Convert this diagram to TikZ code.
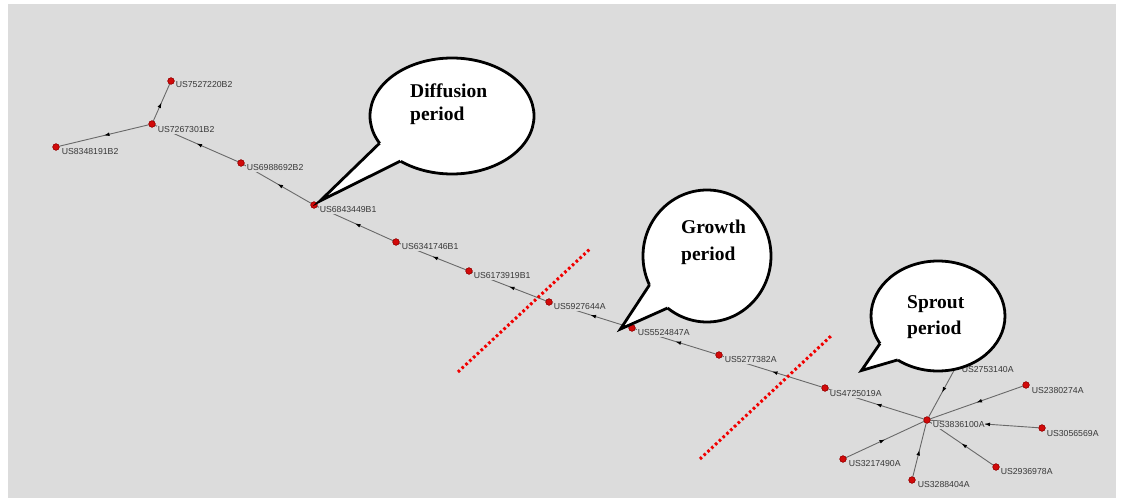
\documentclass[tikz,border=0pt]{standalone}
\usepackage{fontspec}
\setmainfont{Liberation Serif}
\newfontfamily\lblfont{Liberation Sans}
\usetikzlibrary{arrows.meta,decorations.markings,calc}
\definecolor{bgc}{RGB}{220,220,220}
\definecolor{edgec}{RGB}{105,105,105}
\definecolor{dotc}{RGB}{210,10,10}
\definecolor{dotd}{RGB}{140,0,0}
\definecolor{lblc}{RGB}{55,55,55}
\definecolor{cutc}{RGB}{240,0,0}
\begin{document}
\begin{tikzpicture}[x=1pt,y=-1pt,
  dot/.style={circle,fill=dotc,draw=dotd,line width=0.4pt,inner sep=0pt,minimum size=6.5pt},
  lbl/.style={anchor=west,font=\lblfont\fontsize{8.7}{9}\selectfont,text=lblc,fill=bgc,inner sep=0.6pt},
  edge/.style={draw=edgec,line width=0.9pt,postaction={decorate},
    decoration={markings,mark=at position 0.5 with {\arrow{Latex[length=5.5pt,width=3.8pt,color=black]}}}},
  cut/.style={draw=cutc,line width=3pt,dash pattern=on 2.6pt off 2.6pt},
  bubble/.style={fill=white,draw=black,line width=2.8pt},
  tail/.style={draw=black,line width=2.8pt,line join=miter,miter limit=20},
  btext/.style={anchor=base west,font=\fontsize{19.5}{22}\selectfont\bfseries,inner sep=0pt}]
\useasboundingbox (0,0) rectangle (1122,503);
\fill[white] (0,0) rectangle (1122,503);
\fill[bgc] (8,4) rectangle (1116,498);

% patent nodes
\node[dot] (n7527220) at (171,81) {};
\node[dot] (n7267301) at (152,124) {};
\node[dot] (n8348191) at (56,147) {};
\node[dot] (n6988692) at (241,163) {};
\node[dot] (n6843449) at (314,205) {};
\node[dot] (n6341746) at (396,242) {};
\node[dot] (n6173919) at (469,271) {};
\node[dot] (n5927644) at (549,302) {};
\node[dot] (n5524847) at (632,328) {};
\node[dot] (n5277382) at (719,355) {};
\node[dot] (n4725019) at (825,388) {};
\node[dot] (n3836100) at (927,420) {};
\node[dot] (n2753140) at (957,365) {};
\node[dot] (n2380274) at (1026,385) {};
\node[dot] (n3056569) at (1042,428) {};
\node[dot] (n2936978) at (996,467) {};
\node[dot] (n3288404) at (912,480) {};
\node[dot] (n3217490) at (843,459) {};

% citation edges
\path[edge] (n7267301) -- (n7527220);
\path[edge] (n7267301) -- (n8348191);
\path[edge] (n6988692) -- (n7267301);
\path[edge] (n6843449) -- (n6988692);
\path[edge] (n6341746) -- (n6843449);
\path[edge] (n6173919) -- (n6341746);
\path[edge] (n5927644) -- (n6173919);
\path[edge] (n5524847) -- (n5927644);
\path[edge] (n5277382) -- (n5524847);
\path[edge] (n4725019) -- (n5277382);
\path[edge] (n3836100) -- (n4725019);
\path[edge] (n2753140) -- (n3836100);
\path[edge] (n2380274) -- (n3836100);
\path[edge] (n3056569) -- (n3836100);
\path[edge] (n2936978) -- (n3836100);
\path[edge] (n3288404) -- (n3836100);
\path[edge] (n3217490) -- (n3836100);

% redraw dots over edges
\foreach \x/\y in {171/81,152/124,56/147,241/163,314/205,396/242,469/271,549/302,632/328,
  719/355,825/388,927/420,957/365,1026/385,1042/428,996/467,912/480,843/459}
  {\node[dot] at (\x,\y) {};}

% labels
\node[lbl] (l7527220) at (175,85) {US7527220B2};
\node[lbl] (l7267301) at (157,130) {US7267301B2};
\node[lbl] (l8348191) at (61,152) {US8348191B2};
\node[lbl] (l6988692) at (246,168) {US6988692B2};
\node[lbl] (l6843449) at (319,210) {US6843449B1};
\node[lbl] (l6341746) at (401,247) {US6341746B1};
\node[lbl] (l6173919) at (473,276) {US6173919B1};
\node[lbl] (l5927644) at (553,307) {US5927644A};
\node[lbl] (l5524847) at (637,333) {US5524847A};
\node[lbl] (l5277382) at (724,360) {US5277382A};
\node[lbl] (l4725019) at (829,394) {US4725019A};
\node[lbl] (l3836100) at (932,425) {US3836100A};
\node[lbl] (l2753140) at (961,370) {US2753140A};
\node[lbl] (l2380274) at (1031,391) {US2380274A};
\node[lbl] (l3056569) at (1046,434) {US3056569A};
\node[lbl] (l2936978) at (1000,472) {US2936978A};
\node[lbl] (l3288404) at (917,485) {US3288404A};
\node[lbl] (l3217490) at (848,464) {US3217490A};

% red dotted period boundaries
\coordinate (c1a) at (458,372);
\coordinate (c1b) at (591,248);
\coordinate (c2a) at (700,459);
\coordinate (c2b) at (832,335);
\draw[cut] (c1a) -- (c1b);
\draw[cut] (c2a) -- (c2b);

% Diffusion bubble
\coordinate (dc) at (452,116);
\coordinate (d1) at (379.6,143.2);
\coordinate (d2) at (400.4,161.1);
\coordinate (dt) at (320,201);
\draw[bubble] (dc) ellipse [x radius=82pt, y radius=58pt];
\fill[white] (d1) -- (dt) -- (d2) -- (dc) -- cycle;
\draw[tail] (d1) -- (dt) -- (d2);
\node[btext] (dt1) at (410,98) {Diffusion};
\node[btext] (dt2) at (410,121) {period};

% Growth bubble
\coordinate (gc) at (707,256);
\coordinate (g1) at (649.5,284.9);
\coordinate (g2) at (667.6,308.0);
\coordinate (gt) at (620.5,329);
\draw[bubble] (gc) ellipse [x radius=64pt, y radius=66pt];
\fill[white] (g1) -- (gt) -- (g2) -- (gc) -- cycle;
\draw[tail] (g1) -- (gt) -- (g2);
\node[btext] (gt1) at (681,233) {Growth};
\node[btext] (gt2) at (681,260) {period};

% Sprout bubble
\coordinate (sc) at (938,316);
\coordinate (s1) at (880.0,343.5);
\coordinate (s2) at (897.7,359.9);
\coordinate (st) at (861.5,370.5);
\draw[bubble] (sc) ellipse [x radius=67pt, y radius=55pt];
\fill[white] (s1) -- (st) -- (s2) -- (sc) -- cycle;
\draw[tail] (s1) -- (st) -- (s2);
\node[btext] (st1) at (907,308) {Sprout};
\node[btext] (st2) at (907,334) {period};
\end{tikzpicture}
\end{document}
